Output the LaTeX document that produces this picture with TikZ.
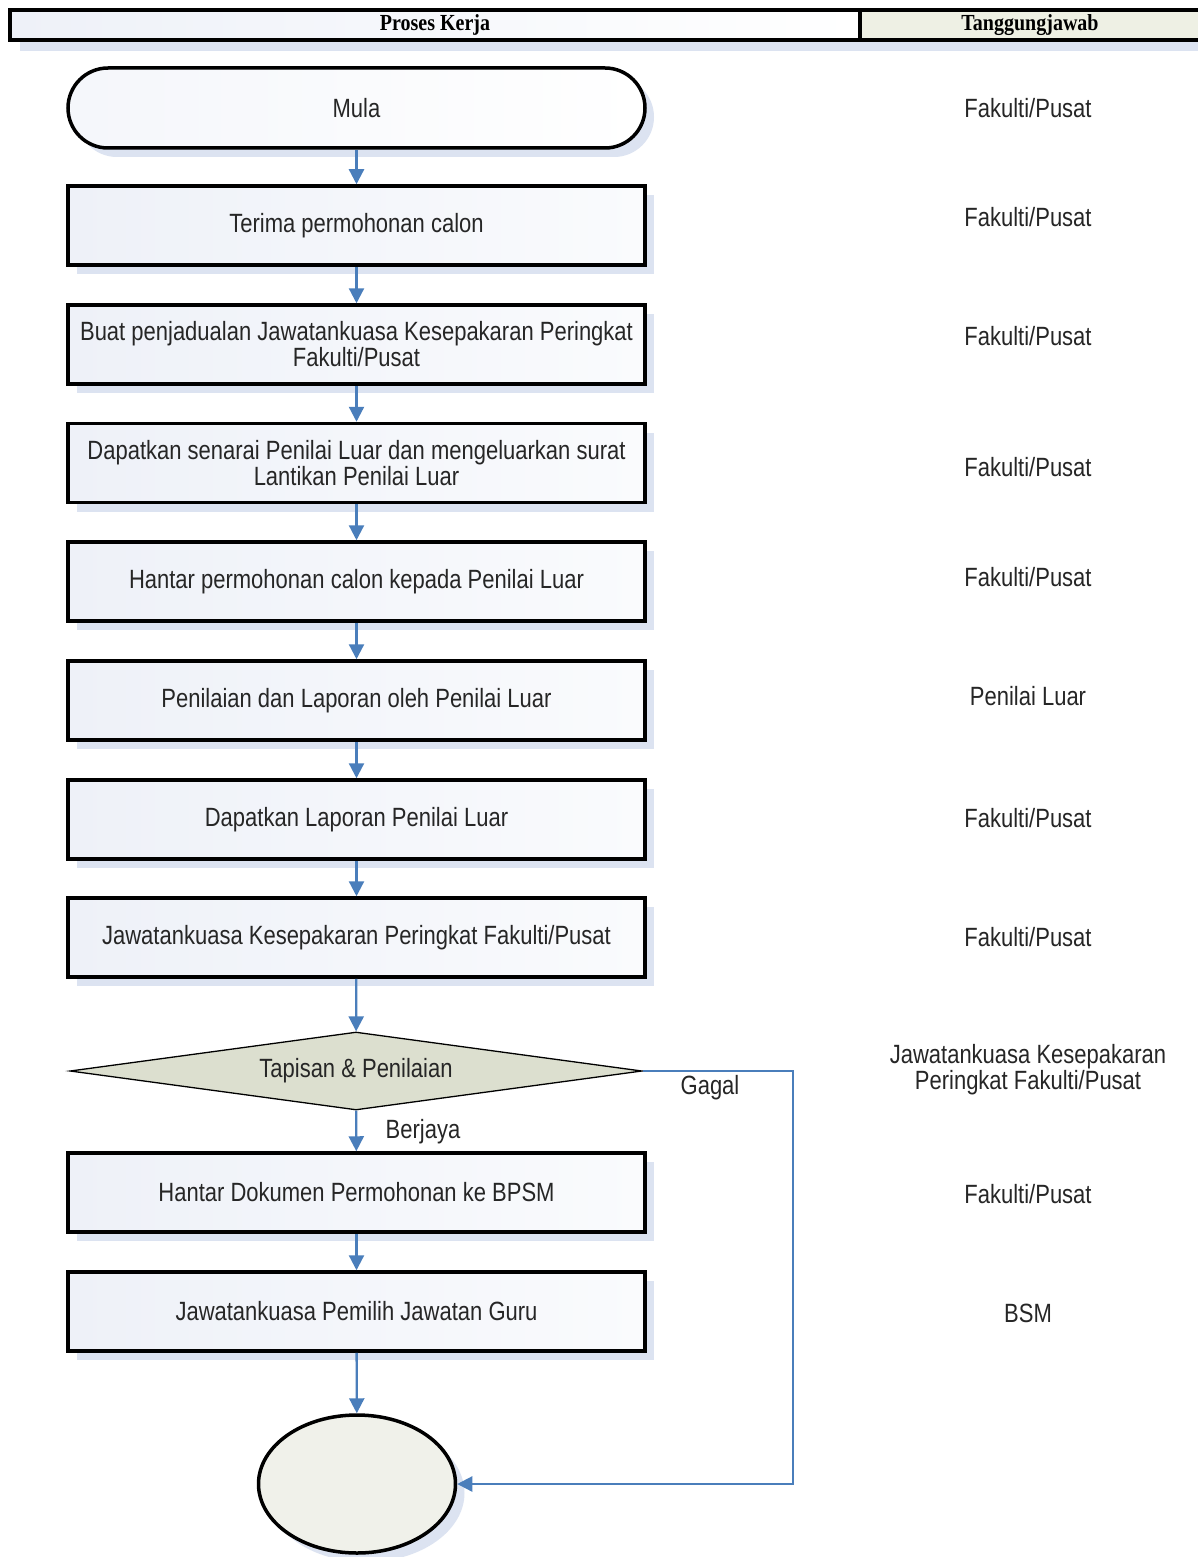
\documentclass[tikz,border=0pt]{standalone}
\usepackage{fontspec}
\usepackage{graphicx}
\setmainfont{Liberation Sans}
\newfontfamily\hdrfont{Liberation Serif}
\usetikzlibrary{shapes.geometric,shadows,arrows.meta}
\definecolor{arrowc}{HTML}{4A7EBB}
\definecolor{shadowc}{HTML}{DCE3F1}
\definecolor{boxl}{HTML}{EEF1F8}
\definecolor{boxr}{HTML}{FAFBFD}
\definecolor{diac}{HTML}{DCDFCF}
\definecolor{ellc}{HTML}{F0F1EA}
\definecolor{hdrc}{HTML}{EEF0E4}
\definecolor{txtc}{HTML}{262626}
\newcommand{\stx}[1]{\scalebox{1}[1.2]{#1}}
\newcommand{\htx}[1]{\scalebox{1}[1.15]{#1}}
\begin{document}
\begin{tikzpicture}[x=1pt,y=-1pt,
  every node/.style={text=txtc, font=\fontsize{22}{26}\selectfont},
  boxshadow/.style={drop shadow={shadow xshift=9pt, shadow yshift=-9pt, fill=shadowc, opacity=1}},
  procbox/.style={draw=black, line width=3.5pt, left color=boxl, right color=boxr,
    minimum width=577pt, minimum height=79pt, inner sep=0pt, align=center, boxshadow},
  startbox/.style={procbox, rounded corners=40pt, minimum height=80pt},
  hdrcell/.style={draw=black, line width=4pt, minimum height=30pt, inner sep=0pt,
    text=black, font=\hdrfont\bfseries\fontsize{20}{24}\selectfont,
    drop shadow={shadow xshift=10pt, shadow yshift=-11pt, fill=shadowc, opacity=1}},
  resp/.style={align=center},
  flow/.style={draw=arrowc, line width=2.3pt, -{Triangle[width=15pt,length=15pt]}}
]
\useasboundingbox (0,0) rectangle (1197,1557);
\fill[white] (0,0) rectangle (1197,1557);

% header
\node (h1) [hdrcell, left color=boxl, right color=white, minimum width=850pt] at (435,25) {\htx{Proses Kerja}};
\node (h2) [hdrcell, fill=hdrc, minimum width=340pt] at (1030,25) {\htx{Tanggungjawab}};

% process column
\node (start) [startbox, left color=boxl!60!white, right color=white] at (356.5,108) {\stx{Mula}};
\node (b1) [procbox] at (356.5,225.5) {\stx{Terima permohonan calon}};
\node (b2) [procbox] at (356.5,344.5) {\stx{Buat penjadualan Jawatankuasa Kesepakaran Peringkat}\\\stx{Fakulti/Pusat}};
\node (b3) [procbox] at (356.5,463) {\stx{Dapatkan senarai Penilai Luar dan mengeluarkan surat}\\\stx{Lantikan Penilai Luar}};
\node (b4) [procbox] at (356.5,581.5) {\stx{Hantar permohonan calon kepada Penilai Luar}};
\node (b5) [procbox] at (356.5,700.5) {\stx{Penilaian dan Laporan oleh Penilai Luar}};
\node (b6) [procbox] at (356.5,819.5) {\stx{Dapatkan Laporan Penilai Luar}};
\node (b7) [procbox] at (356.5,937.5) {\stx{Jawatankuasa Kesepakaran Peringkat Fakulti/Pusat}};
\node (dec) [diamond, draw=black, line width=1.3pt, fill=diac, minimum width=572pt,
  minimum height=78pt, aspect=7.33, inner sep=0pt] at (356,1071) {\stx{Tapisan \& Penilaian}};
\node (b8) [procbox] at (356.5,1192.5) {\stx{Hantar Dokumen Permohonan ke BPSM}};
\node (b9) [procbox] at (356.5,1311.5) {\stx{Jawatankuasa Pemilih Jawatan Guru}};
\node (fin) [ellipse, draw=black, line width=3.5pt, fill=ellc, minimum width=197pt,
  minimum height=138pt, inner sep=0pt, boxshadow] at (357,1484) {};

% responsibility column
\node (r0) [resp] at (1028,108) {\stx{Fakulti/Pusat}};
\node (r1) [resp] at (1028,217) {\stx{Fakulti/Pusat}};
\node (r2) [resp] at (1028,336) {\stx{Fakulti/Pusat}};
\node (r3) [resp] at (1028,467) {\stx{Fakulti/Pusat}};
\node (r4) [resp] at (1028,577) {\stx{Fakulti/Pusat}};
\node (r5) [resp] at (1028,696) {\stx{Penilai Luar}};
\node (r6) [resp] at (1028,818) {\stx{Fakulti/Pusat}};
\node (r7) [resp] at (1028,937) {\stx{Fakulti/Pusat}};
\node (r8) [resp] at (1028,1070) {\stx{Jawatankuasa Kesepakaran}\\\stx{Peringkat Fakulti/Pusat}};
\node (r9) [resp] at (1028,1194) {\stx{Fakulti/Pusat}};
\node (r10) [resp] at (1028,1313) {\stx{BSM}};

% connectors
\draw[flow] (start) -- (b1);
\draw[flow] (b1) -- (b2);
\draw[flow] (b2) -- (b3);
\draw[flow] (b3) -- (b4);
\draw[flow] (b4) -- (b5);
\draw[flow] (b5) -- (b6);
\draw[flow] (b6) -- (b7);
\draw[flow] (b7) -- (dec);
\draw[flow] (dec) -- (b8);
\draw[flow] (b8) -- (b9);
\draw[flow] (b9) -- (fin);
\coordinate (gc) at (793,1071);
\draw[flow] (dec.east) -- (gc) |- (fin.east);

\node (gagal) at (710,1088) {\stx{Gagal}};
\node (berjaya) at (423,1132) {\stx{Berjaya}};
\end{tikzpicture}
\end{document}
